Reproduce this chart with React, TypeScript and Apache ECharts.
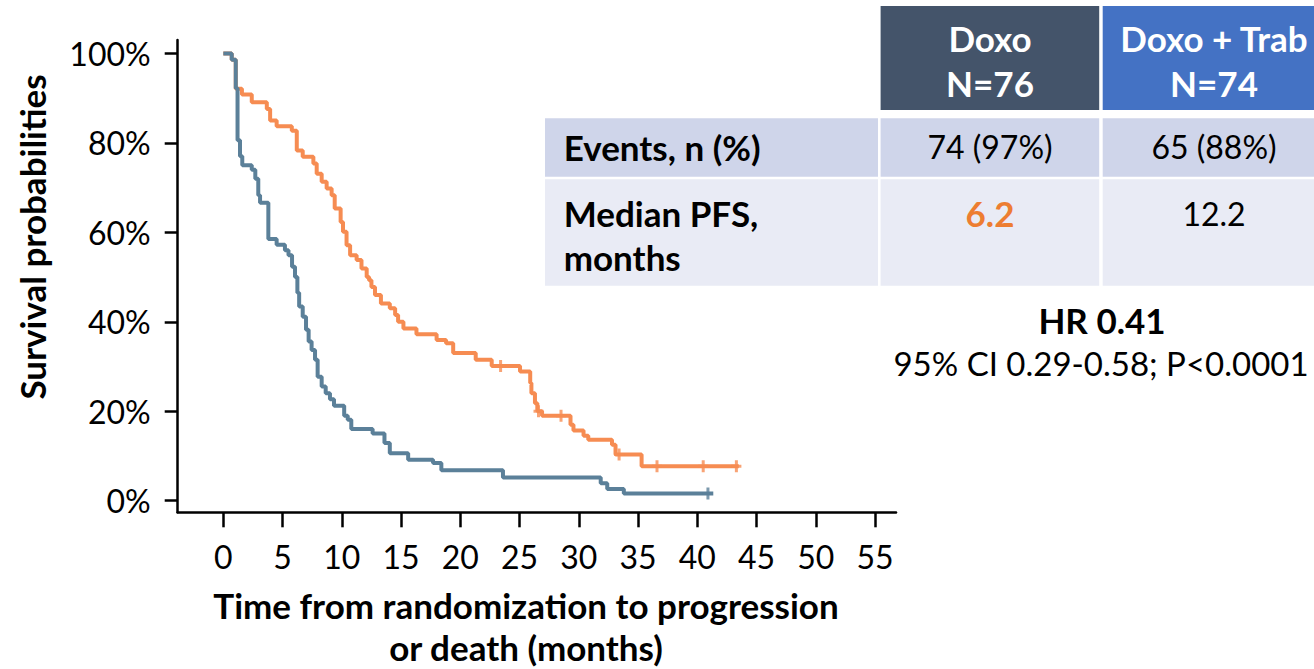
import React, { useEffect, useRef } from "react";
import * as echarts from "echarts";

const xTicks = [0, 5, 10, 15, 20, 25, 30, 35, 40, 45, 50, 55];
const yTicks = [0, 20, 40, 60, 80, 100];

// Doxo (blue-gray) Kaplan-Meier steps [months, survival %]
const doxoSteps: [number, number][] = [
  [0, 100], [0.71, 98.6], [1.05, 92.2], [1.2, 80.6], [1.41, 77], [1.6, 75], [2.4, 74],
  [2.7, 72], [2.95, 68.3], [3.1, 66.6], [3.8, 58.5], [4.5, 57.2], [5.2, 56], [5.5, 54.9],
  [5.8, 52.3], [6.05, 50], [6.25, 46.5], [6.4, 43.4], [6.7, 41.1], [6.98, 38.2], [7.2, 35.6],
  [7.45, 33.7], [7.74, 31.5], [7.96, 27.7], [8.3, 25.5], [8.64, 24], [9.0, 22.7], [9.34, 21.2],
  [10.2, 19.0], [10.5, 18.1], [10.8, 16], [12.6, 15], [13.6, 12.9], [14.05, 10.6], [15.6, 9.15],
  [17.7, 8.4], [18.4, 6.8], [23.6, 5.2], [31.85, 3.9], [32.4, 2.6], [33.8, 1.6], [41.35, 1.6],
];

// Doxo + Trab (orange) Kaplan-Meier steps [months, survival %]
const trabSteps: [number, number][] = [
  [0, 100], [0.71, 98.6], [1.05, 92.1], [1.57, 90.8], [2.4, 89.1], [3.67, 87.6], [3.95, 85],
  [4.5, 83.7], [5.78, 82.7], [6.2, 78.3], [6.7, 76.9], [7.6, 75.4], [7.88, 73.1], [8.3, 71.3],
  [8.72, 69.8], [9.14, 68.3], [9.4, 65.3], [9.9, 62.3], [10.1, 60.1], [10.4, 57.1], [10.7, 54.9],
  [11.25, 53.8], [11.66, 51.9], [12.1, 50], [12.3, 49.3], [12.5, 47.8], [12.8, 46], [13.3, 44.1],
  [14.05, 43], [14.5, 41.5], [14.75, 40], [15.2, 38.5], [16.3, 37.2], [18, 35.9], [18.8, 35.2],
  [19.4, 33], [21.3, 31.5], [22.65, 30.1], [25.04, 28.9], [25.9, 26.3], [26.0, 24], [26.3, 21.8],
  [26.5, 20], [26.9, 19], [29.3, 17], [29.55, 15.7], [30.4, 14.5], [30.8, 13.6], [32.8, 12.5],
  [33.1, 10.3], [35.3, 7.7], [43.5, 7.7],
];

const doxoCensored: [number, number][] = [[40.9, 1.6]];
const trabCensored: [number, number][] = [
  [23.4, 30.1], [26.6, 20], [28.5, 19], [33.4, 10.3], [36.6, 7.7], [40.5, 7.7], [43.3, 7.7],
];

const headerTexts = [["Doxo", "N=76"], ["Doxo + Trab", "N=74"]];
const eventsRow = ["Events, n (%)", "74 (97%)", "65 (88%)"];
const medianRow = ["Median PFS,", "months", "6.2", "12.2"];
const hrTexts = ["HR 0.41", "95% CI 0.29-0.58; P<0.0001"];
const axisTitles = ["Survival probabilities", "Time from randomization to progression", "or death (months)"];

const BLUE = "#5B8099";
const ORANGE = "#F68C52";
const FONT = "Lato";
const BOLD_SIZE = 35;
const REG_SIZE = 32;

const plusSymbol =
  "path://M-1.5,-6L1.5,-6L1.5,-1.5L5,-1.5L5,1.5L1.5,1.5L1.5,6L-1.5,6L-1.5,1.5L-5,1.5L-5,-1.5L-1.5,-1.5Z";

function txt(text: string, x: number, y: number, opts: any = {}) {
  return {
    type: "text",
    x,
    y,
    rotation: opts.rotation || 0,
    z: 10,
    style: {
      text,
      x: 0,
      y: 0,
      fill: opts.fill || "#000",
      fontFamily: FONT,
      fontSize: opts.size || (opts.bold ? BOLD_SIZE : REG_SIZE),
      fontWeight: opts.bold ? "bold" : "normal",
      textAlign: opts.align || "center",
      textVerticalAlign: "middle",
    },
  };
}

export default function App() {
  const ref = useRef<HTMLDivElement>(null);
  useEffect(() => {
    if (!ref.current) return;
    const chart = echarts.init(ref.current, undefined, { renderer: "svg" });
    const axisText = { fontFamily: FONT, fontSize: 32, color: "#000" };
    chart.setOption({
      animation: false,
      backgroundColor: "#fff",
      grid: { left: 177.7, top: 40, width: 718.3, height: 472.3, containLabel: false },
      xAxis: {
        type: "value",
        min: -3.85,
        max: 56.77,
        splitLine: { show: false },
        axisLine: { onZero: false, lineStyle: { color: "#000", width: 2.5 } },
        axisTick: { customValues: xTicks, length: 15, lineStyle: { color: "#000", width: 2.5 } },
        axisLabel: { customValues: xTicks, margin: 28, ...axisText },
      },
      yAxis: {
        type: "value",
        min: -2.6,
        max: 103,
        splitLine: { show: false },
        axisLine: { onZero: false, lineStyle: { color: "#000", width: 2.5 } },
        axisTick: { customValues: yTicks, length: 13, lineStyle: { color: "#000", width: 2.5 } },
        axisLabel: { customValues: yTicks, margin: 27, formatter: "{value}%", ...axisText },
      },
      series: [
        {
          type: "line",
          step: "end",
          data: trabSteps,
          showSymbol: false,
          lineStyle: { color: ORANGE, width: 4 },
          z: 2,
        },
        {
          type: "line",
          step: "end",
          data: doxoSteps,
          showSymbol: false,
          lineStyle: { color: BLUE, width: 4 },
          z: 3,
        },
        {
          type: "scatter",
          data: trabCensored,
          symbol: plusSymbol,
          symbolSize: [10, 12],
          itemStyle: { color: ORANGE },
          z: 4,
        },
        {
          type: "scatter",
          data: doxoCensored,
          symbol: plusSymbol,
          symbolSize: [10, 12],
          itemStyle: { color: BLUE },
          z: 4,
        },
      ],
      graphic: [
        // table backgrounds
        { type: "rect", shape: { x: 880.6, y: 6, width: 218.6, height: 104 }, style: { fill: "#44546A" } },
        { type: "rect", shape: { x: 1102.7, y: 6, width: 220, height: 104 }, style: { fill: "#4472C4" } },
        { type: "rect", shape: { x: 545, y: 118.3, width: 333, height: 58.4 }, style: { fill: "#CFD5EA" } },
        { type: "rect", shape: { x: 880.6, y: 118.3, width: 218.6, height: 58.4 }, style: { fill: "#CFD5EA" } },
        { type: "rect", shape: { x: 1102.7, y: 118.3, width: 220, height: 58.4 }, style: { fill: "#CFD5EA" } },
        { type: "rect", shape: { x: 545, y: 179.3, width: 333, height: 106.4 }, style: { fill: "#E9EBF5" } },
        { type: "rect", shape: { x: 880.6, y: 179.3, width: 218.6, height: 106.4 }, style: { fill: "#E9EBF5" } },
        { type: "rect", shape: { x: 1102.7, y: 179.3, width: 220, height: 106.4 }, style: { fill: "#E9EBF5" } },
        // header texts
        txt(headerTexts[0][0], 990, 38.3, { bold: true, fill: "#fff" }),
        txt(headerTexts[0][1], 990, 83.3, { bold: true, fill: "#fff" }),
        txt(headerTexts[1][0], 1214, 38.3, { bold: true, fill: "#fff" }),
        txt(headerTexts[1][1], 1214, 83.3, { bold: true, fill: "#fff" }),
        // rows
        txt(eventsRow[0], 563.7, 146.7, { bold: true, align: "left" }),
        txt(eventsRow[1], 990, 146.7),
        txt(eventsRow[2], 1214, 146.7),
        txt(medianRow[0], 563.7, 213.3, { bold: true, align: "left" }),
        txt(medianRow[1], 563.7, 256.7, { bold: true, align: "left" }),
        txt(medianRow[2], 990, 213.3, { bold: true, fill: "#ED7D31" }),
        txt(medianRow[3], 1214, 213.3),
        // HR
        txt(hrTexts[0], 1102, 320, { bold: true }),
        txt(hrTexts[1], 1101, 363.3, { size: 33 }),
        // axis titles
        txt(axisTitles[0], 31.7, 237, { bold: true, rotation: Math.PI / 2 }),
        txt(axisTitles[1], 526, 605, { bold: true }),
        txt(axisTitles[2], 526, 647, { bold: true }),
      ],
    });
    return () => chart.dispose();
  }, []);
  return (
    <div
      ref={ref}
      style={{ position: "fixed", left: 0, top: 0, width: 1314, height: 669, background: "#fff" }}
    />
  );
}
